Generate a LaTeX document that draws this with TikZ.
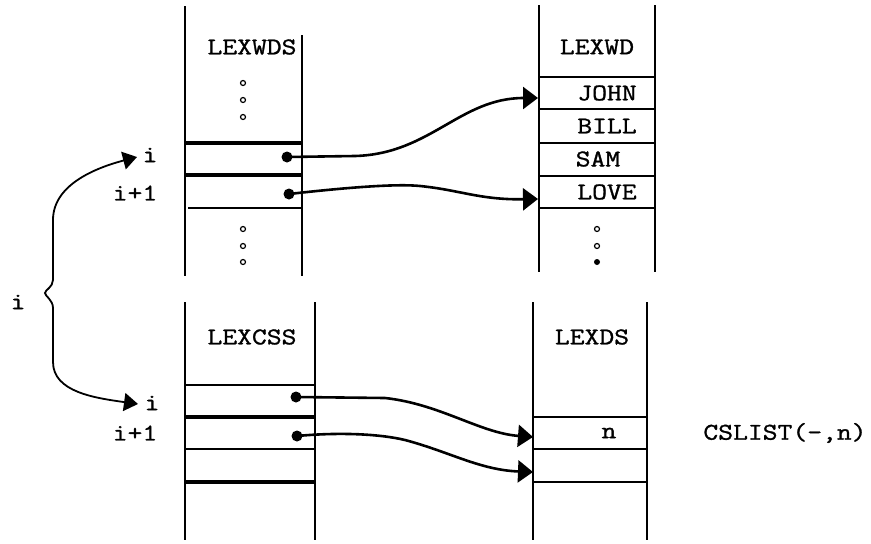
\documentclass[tikz,border=0pt]{standalone}
\usepackage{fontspec}
\setmonofont[FakeStretch=1.2,FakeBold=1.2]{Latin Modern Mono}
\usetikzlibrary{arrows.meta}
\begin{document}
\begin{tikzpicture}[x=1pt,y=-1pt,
  lbl/.style={font=\fontsize{24}{28}\selectfont\ttfamily, inner sep=0pt, anchor=center},
  col/.style={line width=2.4pt},
  thk/.style={line width=3.6pt},
  thn/.style={line width=2.4pt},
  ptr/.style={circle, fill=black, inner sep=0pt, minimum size=11pt},
  odot/.style={circle, draw=black, line width=1.2pt, inner sep=0pt, minimum size=5pt},
  conn/.style={line width=2.6pt, -{Triangle[length=15pt,width=22pt]}},
]
\useasboundingbox (0,0) rectangle (871,544);

% ---------- LEXWDS column ----------
\draw[col] (185,6) -- (185,276);
\draw[col] (302,35) -- (302,276);
\node[lbl] (lexwds) at (252,47) {LEXWDS};
\node[odot] (wa1) at (243,83) {};
\node[odot] (wa2) at (243,100) {};
\node[odot] (wa3) at (243,117) {};
\draw[thk] (185,143) -- (302,143);
\draw[thk] (185,175) -- (302,175);
\draw[thn] (188,208) -- (302,208);
\node[odot] (wb1) at (243,229) {};
\node[odot] (wb2) at (243,246) {};
\node[odot] (wb3) at (243,262) {};
\node[ptr] (p1) at (287,157) {};
\node[ptr] (p2) at (289,194) {};
\node[lbl] (ui) at (150,155) {i};
\node[lbl] (ui1) at (135,193) {i+1};

% ---------- LEXWD column ----------
\draw[col] (539,5) -- (539,272);
\draw[col] (655,5) -- (655,272);
\node[lbl] (lexwd) at (597,47) {LEXWD};
\foreach \yy in {77,109,143,176,208} \draw[thn] (539,\yy) -- (655,\yy);
\node[lbl] (john) at (607,93) {JOHN};
\node[lbl] (bill) at (607,126) {BILL};
\node[lbl] (sam) at (598,159) {SAM};
\node[lbl] (love) at (607,192) {LOVE};
\node[odot] (wc1) at (597,229) {};
\node[odot] (wc2) at (597,246) {};
\node[circle, fill=black, inner sep=0pt, minimum size=6pt] (wc3) at (597,262) {};
\coordinate (tjohn) at (538,98);
\coordinate (tlove) at (538,199);

\draw[conn] (p1.center) -- (355,156) .. controls (430,154) and (460,98) .. (tjohn);
\draw[conn] (p2.center) .. controls (360,186) and (400,184) .. (420,186)
   .. controls (460,190) and (480,200) .. (tlove);

% ---------- LEXCSS column ----------
\draw[col] (185,302) -- (185,540);
\draw[col] (315,302) -- (315,540);
\node[lbl] (lexcss) at (252,337) {LEXCSS};
\draw[thn] (186,385) -- (315,385);
\draw[thk] (186,417) -- (315,417);
\draw[thn] (186,449) -- (315,449);
\draw[thk] (186,482) -- (315,482);
\node[ptr] (p3) at (296,397) {};
\node[ptr] (p4) at (297,436) {};
\node[lbl] (li) at (152,403) {i};
\node[lbl] (li1) at (135,433) {i+1};

% ---------- LEXDS column ----------
\draw[col] (533,302) -- (533,540);
\draw[col] (647,302) -- (647,540);
\node[lbl] (lexds) at (592,337) {LEXDS};
\foreach \yy in {417,449,482} \draw[thn] (533,\yy) -- (647,\yy);
\node[lbl] (n) at (609,433) {n};
\node[lbl] (cslist) at (785,433) {CSLIST(-,n)};
\coordinate (tn) at (533,437);
\coordinate (tn2) at (533,472);

\draw[conn] (p3.center) -- (385,398) .. controls (440,404) and (480,433) .. (tn);
\draw[conn] (p4.center) .. controls (340,432) and (380,434) .. (405,440)
   .. controls (450,452) and (480,470) .. (tn2);

% ---------- brace ----------
\node[lbl] (bi) at (18,302) {i};
\coordinate (tui) at (137,157);
\coordinate (tli) at (138,404);
\draw[line width=1.8pt, {Triangle[length=14pt,width=18pt]}-{Triangle[length=14pt,width=18pt]}]
  (tui) .. controls (95,168) and (53,185) .. (53,220)
  -- (53,280) .. controls (53,287) and (45,290) .. (45,293)
  .. controls (45,296) and (53,300) .. (53,308)
  -- (53,362) .. controls (53,392) and (95,398) .. (tli);
\end{tikzpicture}
\end{document}
